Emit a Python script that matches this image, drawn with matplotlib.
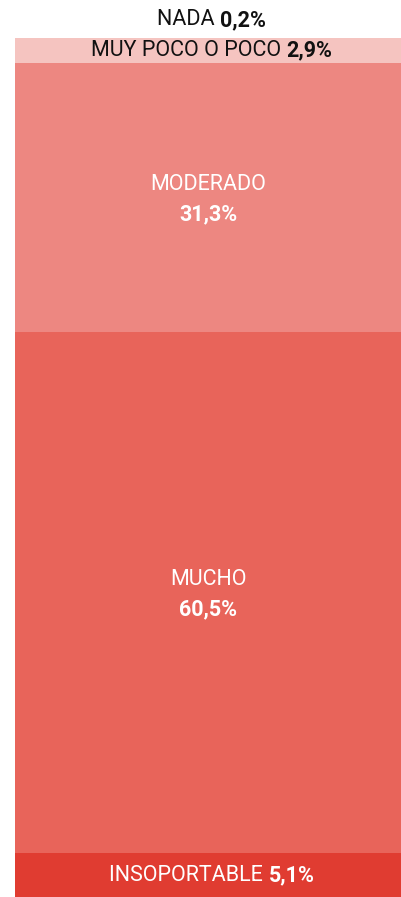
import matplotlib.pyplot as plt

labels = ["NADA", "MUY POCO O POCO", "MODERADO", "MUCHO", "INSOPORTABLE"]
values = [0.2, 2.9, 31.3, 60.5, 5.1]
value_text = ["0,2%", "2,9%", "31,3%", "60,5%", "5,1%"]
colors = ["#fbe3e1", "#f5c4c0", "#ed8781", "#e8645a", "#e03c31"]
text_colors = ["#111111", "#111111", "white", "white", "white"]

plt.rcParams['font.family'] = ['Roboto', 'DejaVu Sans']
FS = 15.5

fig = plt.figure(figsize=(4.01, 8.97), dpi=100)
ax = fig.add_axes([15 / 401, 0, 1 - 15 / 401, 1 - 38 / 897])
ax.set_xlim(0, 1)
ax.set_ylim(sum(values), values[0])
ax.axis('off')


def inline_label(x, y, lab, val, color, transform):
    # "LABEL value" centred as one line, label regular and value bold
    t = ax.text(x, y, lab + " ", ha='right', va='center', fontsize=FS,
                color=color, transform=transform, clip_on=False)
    t2 = ax.text(x, y, val, ha='left', va='center', fontsize=FS,
                 fontweight='bold', color=color, transform=transform, clip_on=False)
    fig.canvas.draw()
    w = t.get_window_extent().width
    w2 = t2.get_window_extent().width
    shift = (w - w2) / 2
    inv = transform.inverted()
    px, py = transform.transform((x, y))
    nx = inv.transform((px + shift, py))[0]
    t.set_x(nx)
    t2.set_x(nx)


bottom = 0
for i, (lab, v) in enumerate(zip(labels, values)):
    ax.bar(0.5, v, width=1, bottom=bottom, color=colors[i], edgecolor='none')
    mid = bottom + v / 2
    if i == 0:
        # tiny segment, label goes above the bar
        inline_label(0.51, 1 + 18 / 859, lab, value_text[i], text_colors[i],
                     ax.transAxes)
    elif v < 10:
        inline_label(0.51, mid, lab, value_text[i], text_colors[i], ax.transData)
    else:
        ax.annotate(lab, (0.5, mid), xytext=(0, 13), textcoords='offset pixels',
                    ha='center', va='center', fontsize=FS, color=text_colors[i])
        ax.annotate(value_text[i], (0.5, mid), xytext=(0, -17),
                    textcoords='offset pixels', ha='center', va='center',
                    fontsize=FS, fontweight='bold', color=text_colors[i])
    bottom += v

fig.savefig("out.png", dpi=100)
